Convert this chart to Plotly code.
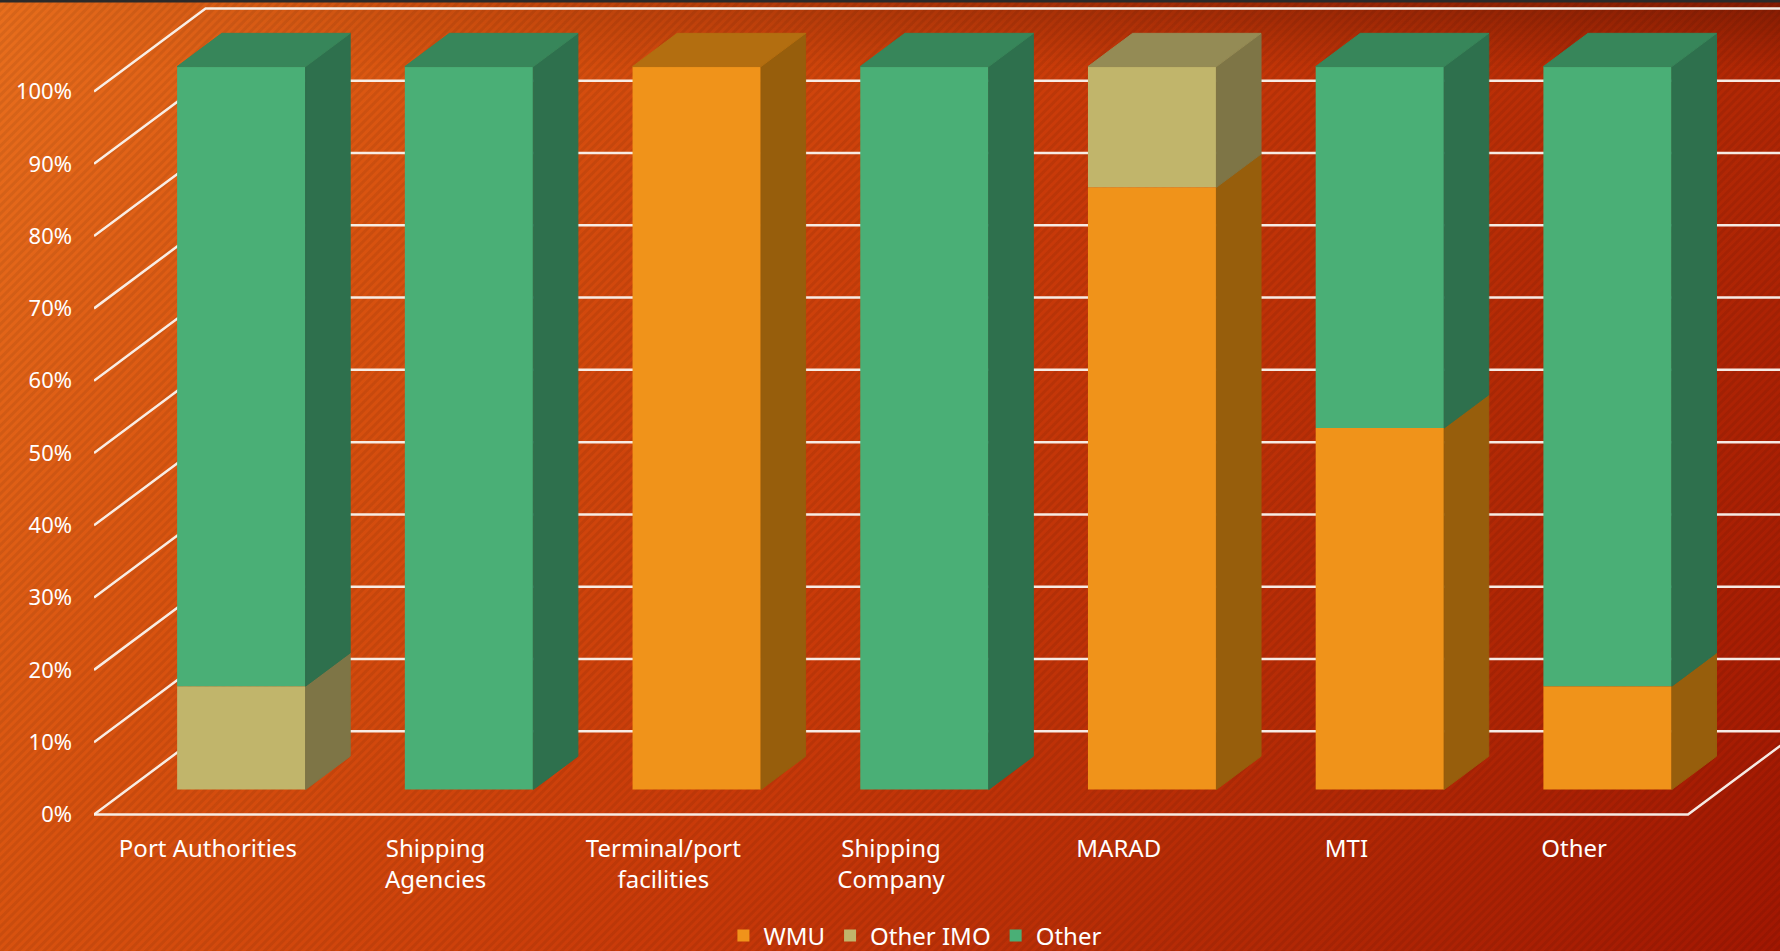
import base64
import plotly.graph_objects as go

# ---------------- data ----------------
categories = ["Port Authorities", "Shipping<br>Agencies", "Terminal/port<br>facilities",
              "Shipping<br>Company", "MARAD", "MTI", "Other"]
wmu = [0, 0, 100, 0, 83.3, 50, 14.3]
other_imo = [14.3, 0, 0, 0, 16.7, 0, 0]
other = [85.7, 100, 0, 100, 0, 50, 85.7]
series_names = ["WMU", "Other IMO", "Other"]
y_ticks = [0, 10, 20, 30, 40, 50, 60, 70, 80, 90, 100]
y_tick_labels = [f"{v}%" for v in y_ticks]

# ---------------- style ----------------
front_colors = ["#F0931A", "#C1B56B", "#4AAF76"]
side_colors = ["#975E0C", "#7E7546", "#2E704D"]
top_colors = ["#B36E10", "#948B55", "#37865A"]
FONT = "Noto Sans"
FS_Y = 22
FS_X = 24
W, H = 1780, 951

# oblique 3-D projection (in axis units)
DEPTH_X, DEPTH_Y = 0.49, 11.5
Z0, Z1 = 0.3, 0.7
BAR_W = 0.564
fx, fy = Z0 * DEPTH_X, Z0 * DEPTH_Y
bdx, bdy = (Z1 - Z0) * DEPTH_X, (Z1 - Z0) * DEPTH_Y

X_RANGE = [-0.5, 6.904]
Y_RANGE = [-0.76, 112.66]

series = [wmu, other_imo, other]
n = len(categories)

fig = go.Figure()

# front faces (bars)
for s, vals in enumerate(series):
    bases = [sum(series[k][i] for k in range(s)) + fy for i in range(n)]
    fig.add_trace(go.Bar(
        x=[i + fx for i in range(n)], y=vals, base=bases, width=BAR_W,
        name=series_names[s], marker=dict(color=front_colors[s], line=dict(width=0)),
        hoverinfo="skip",
    ))

# side faces
for s, vals in enumerate(series):
    xs, ys = [], []
    for i in range(n):
        if vals[i] <= 0:
            continue
        b = sum(series[k][i] for k in range(s)) + fy
        t = b + vals[i]
        xr = i + fx + BAR_W / 2
        xs += [xr, xr + bdx, xr + bdx, xr, xr, None]
        ys += [b, b + bdy, t + bdy, t, b, None]
    fig.add_trace(go.Scatter(x=xs, y=ys, mode="lines", fill="toself",
                             fillcolor=side_colors[s],
                             line=dict(width=1, color=side_colors[s]),
                             showlegend=False, hoverinfo="skip"))

# top faces (of top-most non-zero segment)
for s in range(len(series)):
    xs, ys = [], []
    for i in range(n):
        top_s = max(k for k in range(len(series)) if series[k][i] > 0)
        if top_s != s:
            continue
        T = sum(series[k][i] for k in range(len(series))) + fy
        xl = i + fx - BAR_W / 2
        xr = i + fx + BAR_W / 2
        xs += [xl, xl + bdx, xr + bdx, xr, xl, None]
        ys += [T, T + bdy, T + bdy, T, T, None]
    if xs:
        fig.add_trace(go.Scatter(x=xs, y=ys, mode="lines", fill="toself",
                                 fillcolor=top_colors[s],
                                 line=dict(width=1, color=top_colors[s]),
                                 showlegend=False, hoverinfo="skip"))

# gridlines: left wall diagonals + back wall lines
shapes = []
LINE = dict(color="rgba(250,245,240,0.95)", width=2.5)
x_left = X_RANGE[0]
for v in y_ticks:
    path = f"M {x_left},{v} L {x_left + DEPTH_X},{v + DEPTH_Y} L 8,{v + DEPTH_Y}"
    shapes.append(dict(type="path", path=path, xref="x", yref="y", line=LINE, layer="below"))
# floor front edge and right diagonal
x_right = n - 0.5
shapes.append(dict(type="path",
                   path=f"M {x_left},0 L {x_right},0 L {x_right + DEPTH_X},{DEPTH_Y}",
                   xref="x", yref="y", line=LINE, layer="below"))
# thin dark band at top
shapes.append(dict(type="rect", xref="paper", yref="paper", x0=0, x1=1, y0=1 - 2.5 / H, y1=1,
                   fillcolor="#2A2A2A", line=dict(width=0), layer="above"))

# background: gradient with diagonal stripes (SVG)
svg = f"""<svg xmlns='http://www.w3.org/2000/svg' width='{W}' height='{H}'>
<defs>
<linearGradient id='g' gradientUnits='userSpaceOnUse' x1='0' y1='0' x2='{W}' y2='{H}'>
<stop offset='0' stop-color='#E86E1D'/>
<stop offset='0.22' stop-color='#D8520F'/>
<stop offset='0.5' stop-color='#C93A09'/>
<stop offset='0.78' stop-color='#B22805'/>
<stop offset='1' stop-color='#A21702'/>
</linearGradient>
<linearGradient id='t' x1='0' y1='0' x2='0' y2='1'>
<stop offset='0' stop-color='#3A0A00' stop-opacity='0.4'/>
<stop offset='1' stop-color='#3A0A00' stop-opacity='0'/>
</linearGradient>
<linearGradient id='tm' x1='0' y1='0' x2='1' y2='0'>
<stop offset='0' stop-color='white' stop-opacity='0'/>
<stop offset='0.5' stop-color='white' stop-opacity='0.6'/>
<stop offset='1' stop-color='white' stop-opacity='1'/>
</linearGradient>
<mask id='m'><rect width='{W}' height='70' fill='url(#tm)'/></mask>
<pattern id='p' width='6' height='6' patternUnits='userSpaceOnUse' patternTransform='rotate(45)'>
<rect width='3' height='6' fill='black' fill-opacity='0.07'/>
</pattern>
</defs>
<rect width='{W}' height='{H}' fill='url(#g)'/>
<rect width='{W}' height='70' fill='url(#t)' mask='url(#m)'/>
<rect width='{W}' height='{H}' fill='url(#p)'/>
</svg>"""
src = "data:image/svg+xml;base64," + base64.b64encode(svg.encode()).decode()

fig.update_layout(
    width=W, height=H,
    margin=dict(l=0, r=0, t=0, b=0, autoexpand=False),
    barmode="overlay",
    paper_bgcolor="rgba(0,0,0,0)", plot_bgcolor="rgba(0,0,0,0)",
    font=dict(family=FONT, color="white", size=FS_X),
    shapes=shapes,
    images=[dict(source=src, xref="paper", yref="paper", x=0, y=1, sizex=1, sizey=1,
                 xanchor="left", yanchor="top", sizing="stretch", layer="below")],
    xaxis=dict(domain=[94 / W, 1], range=X_RANGE, tickmode="array",
               tickvals=list(range(n)), ticktext=categories, showgrid=False,
               zeroline=False, showline=False, ticks="", ticklabelstandoff=12,
               tickfont=dict(family=FONT, size=FS_X, color="white"), fixedrange=True),
    yaxis=dict(domain=[131 / H, 1], range=Y_RANGE, tickmode="array",
               tickvals=y_ticks, ticktext=y_tick_labels, showgrid=False,
               zeroline=False, showline=False, ticks="", ticklabelstandoff=21,
               tickfont=dict(family=FONT, size=FS_Y, color="white"), fixedrange=True),
    legend=dict(orientation="h", x=0.514, xanchor="center", y=15 / H, yanchor="middle",
                bgcolor="rgba(0,0,0,0)", font=dict(family=FONT, size=FS_X, color="white"),
                traceorder="normal", itemclick=False, itemdoubleclick=False,
                itemwidth=30, tracegroupgap=0),
    showlegend=True,
)

fig.write_html("out.html")
